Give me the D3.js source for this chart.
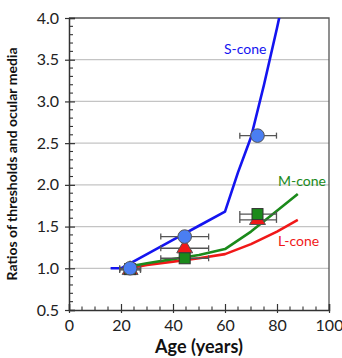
<!DOCTYPE html>
<html>
<head>
<meta charset="utf-8">
<script src="https://cdn.jsdelivr.net/npm/d3@7"></script>
<style>
  body { margin: 0; background: #fff; }
  text { font-family: Lato, "Open Sans", sans-serif; }
</style>
</head>
<body>
<div id="chart"></div>
<script>
// model curves (age -> ratio)
var sConeAges = [16, 20, 30, 40, 50, 60, 65, 70, 75, 80, 85];
var sConeVals = [1.0, 1.0, 1.17, 1.34, 1.51, 1.68, 2.15, 2.57, 3.2, 3.88, 4.6];
var mConeAges = [23, 30, 40, 50, 60, 70, 80, 88];
var mConeVals = [1.02, 1.06, 1.11, 1.16, 1.23, 1.44, 1.69, 1.89];
var lConeAges = [23, 30, 40, 50, 60, 70, 80, 88];
var lConeVals = [1.0, 1.04, 1.08, 1.12, 1.17, 1.29, 1.44, 1.58];

// measured points
var groupAges = [23.5, 44.5, 72.5];
var ageErrLo = [19.5, 35.3, 65.7];
var ageErrHi = [27.5, 53.7, 79.8];
var sPoints = [1.0, 1.38, 2.59];
var mPoints = [0.99, 1.12, 1.65];
var lPoints = [0.98, 1.24, 1.58];

var xTicks = [0, 20, 40, 60, 80, 100];
var yTicks = [0.5, 1.0, 1.5, 2.0, 2.5, 3.0, 3.5, 4.0];

var W = 342, H = 358;
var m = { top: 18, right: 13, bottom: 48, left: 69 };
var w = W - m.left - m.right, h = H - m.top - m.bottom;

var svg = d3.select("#chart").append("svg")
  .attr("width", W).attr("height", H);
var g = svg.append("g").attr("transform", "translate(" + m.left + "," + m.top + ")");

var x = d3.scaleLinear().domain([0, 100]).range([0, w]);
var y = d3.scaleLinear().domain([0.5, 4.0]).range([h, 0]);

// grid
g.selectAll("line.grid").data(yTicks.slice(1, -1)).enter().append("line")
  .attr("class", "grid")
  .attr("x1", 0).attr("x2", w)
  .attr("y1", function (d) { return y(d); }).attr("y2", function (d) { return y(d); })
  .attr("stroke", "#c4c4c4").attr("stroke-width", 1.3);

// top and right border
g.append("path").attr("d", "M0,0H" + w + "V" + h)
  .attr("fill", "none").attr("stroke", "#555").attr("stroke-width", 1.3);

// axes with inward ticks
var xAxis = g.append("g").attr("transform", "translate(0," + h + ")")
  .call(d3.axisBottom(x).tickValues(xTicks).tickSize(-6).tickPadding(10).tickFormat(d3.format("d")));
var yAxis = g.append("g")
  .call(d3.axisLeft(y).tickValues(yTicks).tickSize(-6).tickPadding(10).tickFormat(d3.format(".1f")));
[xAxis, yAxis].forEach(function (a) {
  a.select(".domain").attr("stroke", "#333").attr("stroke-width", 1.5);
  a.selectAll(".tick line").attr("stroke", "#333").attr("stroke-width", 1.2);
  a.selectAll("text").attr("font-size", "16px").attr("fill", "#222")
    .style("font-family", "Lato, 'Open Sans', sans-serif");
});
// major ticks cross the axis a little
yAxis.selectAll(".tick line").attr("x1", -4);
xAxis.selectAll(".tick line").attr("y1", 3);

// minor ticks
g.selectAll("line.xminor").data(d3.range(5, 100, 5).filter(function (d) { return d % 20; }))
  .enter().append("line")
  .attr("x1", function (d) { return x(d); }).attr("x2", function (d) { return x(d); })
  .attr("y1", h).attr("y2", h - 3.5).attr("stroke", "#333").attr("stroke-width", 1.1);
g.selectAll("line.yminor").data(d3.range(6, 40).map(function (d) { return d / 10; })
  .filter(function (d) { return Math.round(d * 10) % 5; }))
  .enter().append("line")
  .attr("y1", function (d) { return y(d); }).attr("y2", function (d) { return y(d); })
  .attr("x1", 0).attr("x2", 4).attr("stroke", "#333").attr("stroke-width", 1.1);

// clip for curves
svg.append("clipPath").attr("id", "plotclip").append("rect")
  .attr("x", 0).attr("y", 0).attr("width", w).attr("height", h);

var line = d3.line()
  .x(function (d) { return x(d[0]); })
  .y(function (d) { return y(d[1]); });

var curves = [
  { ages: lConeAges, vals: lConeVals, color: "#f01818" },
  { ages: mConeAges, vals: mConeVals, color: "#1b8a1b" },
  { ages: sConeAges, vals: sConeVals, color: "#1414f0" }
];
var curveG = g.append("g").attr("clip-path", "url(#plotclip)");
curves.forEach(function (c) {
  curveG.append("path")
    .datum(d3.zip(c.ages, c.vals))
    .attr("d", line)
    .attr("fill", "none")
    .attr("stroke", c.color)
    .attr("stroke-width", 2.6)
    .attr("stroke-linejoin", "round");
});

// error bars
function errBars(vals) {
  vals.forEach(function (v, i) {
    var yy = y(v);
    g.append("line").attr("x1", x(ageErrLo[i])).attr("x2", x(ageErrHi[i]))
      .attr("y1", yy).attr("y2", yy).attr("stroke", "#555").attr("stroke-width", 1.3);
    [ageErrLo[i], ageErrHi[i]].forEach(function (a) {
      g.append("line").attr("x1", x(a)).attr("x2", x(a))
        .attr("y1", yy - 3).attr("y2", yy + 3).attr("stroke", "#555").attr("stroke-width", 1.3);
    });
  });
}
errBars(lPoints);
errBars(mPoints);
errBars(sPoints);

// markers
var tri = d3.symbol().type(d3.symbolTriangle).size(110);
g.selectAll("path.tri").data(lPoints).enter().append("path")
  .attr("d", tri)
  .attr("transform", function (d, i) { return "translate(" + x(groupAges[i]) + "," + y(d) + ")"; })
  .attr("fill", "#f01818").attr("stroke", "#555").attr("stroke-width", 1);
g.selectAll("rect.sq").data(mPoints).enter().append("rect")
  .attr("x", function (d, i) { return x(groupAges[i]) - 5.5; })
  .attr("y", function (d) { return y(d) - 5.5; })
  .attr("width", 11).attr("height", 11)
  .attr("fill", "#1b8a1b").attr("stroke", "#333").attr("stroke-width", 1);
g.selectAll("circle.pt").data(sPoints).enter().append("circle")
  .attr("cx", function (d, i) { return x(groupAges[i]); })
  .attr("cy", function (d) { return y(d); })
  .attr("r", 6.8)
  .attr("fill", "#4a7ef2").attr("stroke", "#555").attr("stroke-width", 1);

// curve labels
var labels = [
  { text: "S-cone", age: 59.6, val: 3.63, color: "#1414f0" },
  { text: "M-cone", age: 80.4, val: 2.05, color: "#1b8a1b" },
  { text: "L-cone", age: 80.4, val: 1.32, color: "#f01818" }
];
g.selectAll("text.lab").data(labels).enter().append("text")
  .attr("x", function (d) { return x(d.age); })
  .attr("y", function (d) { return y(d.val); })
  .attr("dy", "0.35em")
  .attr("font-size", "14px")
  .attr("fill", function (d) { return d.color; })
  .text(function (d) { return d.text; });

// axis titles
svg.append("text")
  .attr("x", m.left + w / 2).attr("y", 353)
  .attr("text-anchor", "middle")
  .attr("font-size", "18px").attr("font-weight", "bold").attr("fill", "#111")
  .text("Age (years)");
svg.append("text")
  .attr("transform", "translate(17," + (m.top + h / 2) + ") rotate(-90)")
  .attr("text-anchor", "middle")
  .attr("font-size", "14px").attr("font-weight", "bold").attr("fill", "#111")
  .text("Ratios of thresholds and ocular media");
</script>
</body>
</html>
